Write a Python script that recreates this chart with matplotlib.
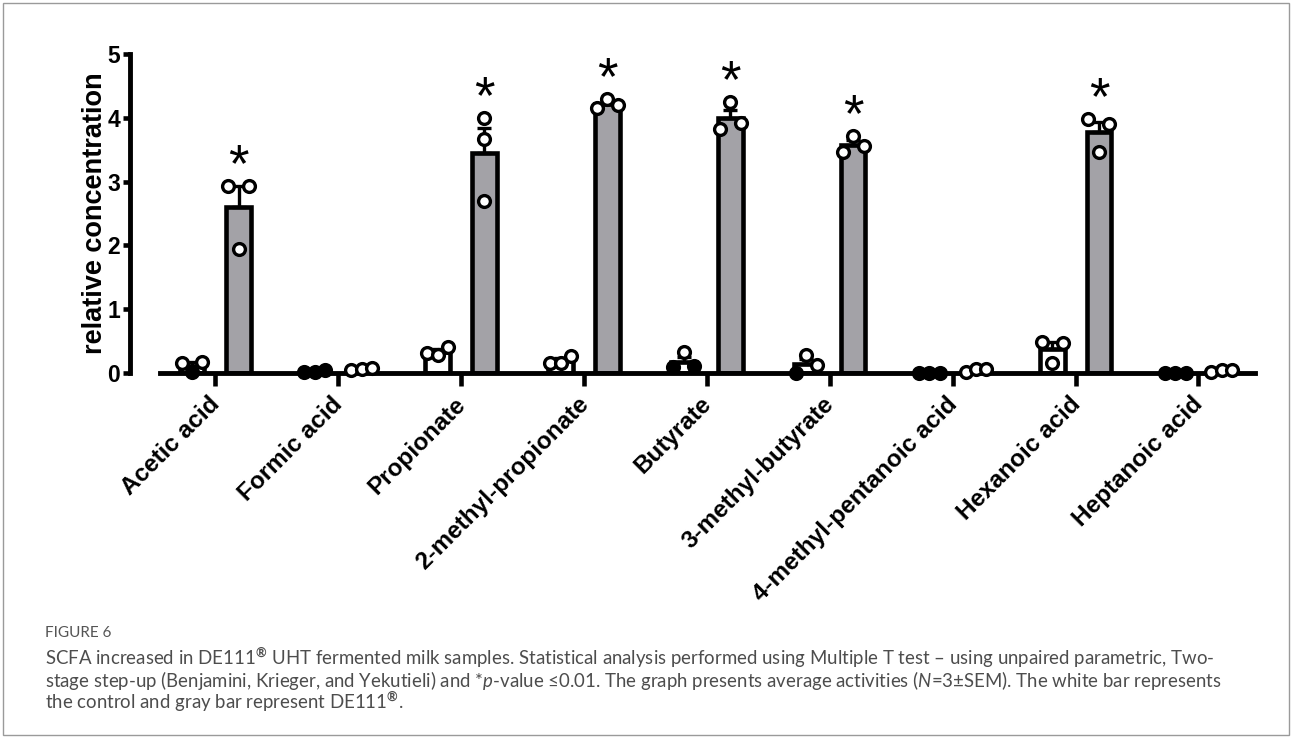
import numpy as np
import matplotlib
matplotlib.use("Agg")
import matplotlib.pyplot as plt
from matplotlib.patches import Rectangle
from matplotlib.transforms import ScaledTranslation

plt.rcParams["font.family"] = ["Liberation Sans", "DejaVu Sans"]
plt.rcParams["mathtext.fontset"] = "custom"
plt.rcParams["mathtext.rm"] = "Lato"
plt.rcParams["mathtext.it"] = "Lato:italic"
plt.rcParams["mathtext.bf"] = "Lato:bold"

# ---------------------------------------------------------------------------
# SCFA replicate values (relative concentration, N=3 per group)
# ---------------------------------------------------------------------------
compounds = ["Acetic acid", "Formic acid", "Propionate", "2-methyl-propionate",
             "Butyrate", "3-methyl-butyrate", "4-methyl-pentanoic acid",
             "Hexanoic acid", "Heptanoic acid"]

control = [
    [0.15, 0.02, 0.18],
    [0.01, 0.02, 0.04],
    [0.32, 0.28, 0.40],
    [0.16, 0.16, 0.27],
    [0.10, 0.33, 0.11],
    [0.00, 0.28, 0.12],
    [0.00, 0.00, 0.00],
    [0.49, 0.15, 0.47],
    [0.00, 0.00, 0.00],
]

de111 = [
    [2.93, 1.95, 2.93],
    [0.05, 0.06, 0.08],
    [4.00, 3.66, 2.70],
    [4.15, 4.29, 4.20],
    [3.82, 4.25, 3.92],
    [3.46, 3.71, 3.56],
    [0.02, 0.06, 0.06],
    [3.98, 3.46, 3.90],
    [0.01, 0.04, 0.04],
]

significant = [True, False, True, True, True, True, False, True, False]
y_ticks = [0, 1, 2, 3, 4, 5]

caption_title = "FIGURE 6"
caption_lines = [
    "SCFA increased in DE111$^{\\mathbf{®}}$ UHT fermented milk samples. Statistical analysis performed "
    "using Multiple T test \u2013 using unpaired parametric, Two-",
    "stage step-up (Benjamini, Krieger, and Yekutieli) and *$\\mathit{p}$-value \u22640.01. "
    "The graph presents average activities ($\\mathit{N}$=3\u00b1SEM). The white bar represents",
    "the control and gray bar represent DE111$^{\\mathbf{®}}$.",
]

GRAY = "#a3a2a7"
LW = 3.3
BAR_W = 0.2
OFFSET = 0.19
SPREAD = 0.085      # horizontal step between overlapping replicate dots
OVERLAP = 0.17      # values closer than this collide on screen


def dot_offsets(vals):
    """Spread colliding replicate dots sideways, keep isolated ones centred."""
    vals = np.asarray(vals)
    order = np.argsort(vals)
    groups, cur = [], [order[0]]
    for a, b in zip(order[:-1], order[1:]):
        if vals[b] - vals[a] < OVERLAP:
            cur.append(b)
        else:
            groups.append(cur)
            cur = [b]
    groups.append(cur)
    offs = np.zeros(len(vals))
    for g in groups:
        g = sorted(g)
        if len(g) == 2:
            steps = [-1, 1]
        else:
            steps = np.arange(len(g)) - (len(g) - 1) / 2
        for i, s in zip(g, steps):
            offs[i] = s * SPREAD
    return offs


def sem(v):
    return np.std(v, ddof=1) / np.sqrt(len(v))


fig = plt.figure(figsize=(12.93, 7.37), dpi=100)
ax = fig.add_axes([160 / 1293, 1 - 373 / 737, 1095 / 1293, 319 / 737])

# spine layout first: moving a spine resets that axis' ticks
for side in ("top", "right"):
    ax.spines[side].set_visible(False)
ax.spines["left"].set_linewidth(3.5)
ax.spines["bottom"].set_linewidth(3.5)
ax.spines["left"].set_position(("outward", 21.6))

x = np.arange(len(compounds))

for i in x:
    for grp, shift, fill in ((control[i], -OFFSET, "white"), (de111[i], OFFSET, GRAY)):
        vals = np.array(grp)
        m, s = vals.mean(), sem(vals)
        xc = i + shift
        ax.bar(xc, m, width=BAR_W, color=fill, edgecolor="black", linewidth=LW, zorder=2)
        ax.errorbar(xc, m, yerr=[[0], [s]], fmt="none", ecolor="black",
                    elinewidth=2.4, capsize=5, capthick=2.4, zorder=3)
        offs = dot_offsets(vals)
        for v, o in zip(vals, offs):
            # control dots lying on the bar edge / axis read as solid black
            face = "black" if (fill == "white" and v < 0.12) else "white"
            ax.plot(xc + o, v, "o", ms=8.5, mfc=face, mec="black", mew=2.4,
                    zorder=4, clip_on=False)
    if significant[i]:
        top = max(np.max(de111[i]), np.mean(de111[i]) + sem(de111[i]))
        ax.text(i + OFFSET, top + 0.30, "*", ha="center", va="center",
                fontsize=38, zorder=5)

ax.set_xlim(-0.45, 8.46)
ax.set_ylim(0, 5)
ax.tick_params(axis="x", width=3.3, length=9, direction="out", pad=5)
ax.tick_params(axis="y", width=3.3, length=5, direction="out", pad=2)
ax.set_xticks(x)
ax.set_xticklabels(compounds, rotation=45, ha="right", rotation_mode="anchor",
                   fontsize=17.5, fontweight="bold")
shift_left = ScaledTranslation(-7 / 100, 0, fig.dpi_scale_trans)
for lbl in ax.get_xticklabels():
    lbl.set_transform(lbl.get_transform() + shift_left)
ax.set_yticks(y_ticks)
ax.set_yticklabels([str(t) for t in y_ticks], fontsize=16.5, fontweight="bold")

ax.set_ylabel("relative concentration", fontsize=19.5, fontweight="bold")
ax.yaxis.set_label_coords(-52 / 1095, 0.5)

# caption block
fig.text(45 / 1293, 1 - 633 / 737, caption_title, fontsize=11, color="#555555",
         family="Lato", va="center")
for k, line in enumerate(caption_lines):
    fig.text(45 / 1293, 1 - (658 + 22 * k) / 737, line, fontsize=13.4,
             color="#4d4d4d", family="Lato", va="center")

# thin frame round the figure
fig.patches.append(Rectangle((3 / 1293, 1 - 735 / 737), 1286 / 1293, 732 / 737,
                             transform=fig.transFigure, fill=False,
                             edgecolor="#9a9a9a", linewidth=1))

fig.savefig("out.png", dpi=100)
